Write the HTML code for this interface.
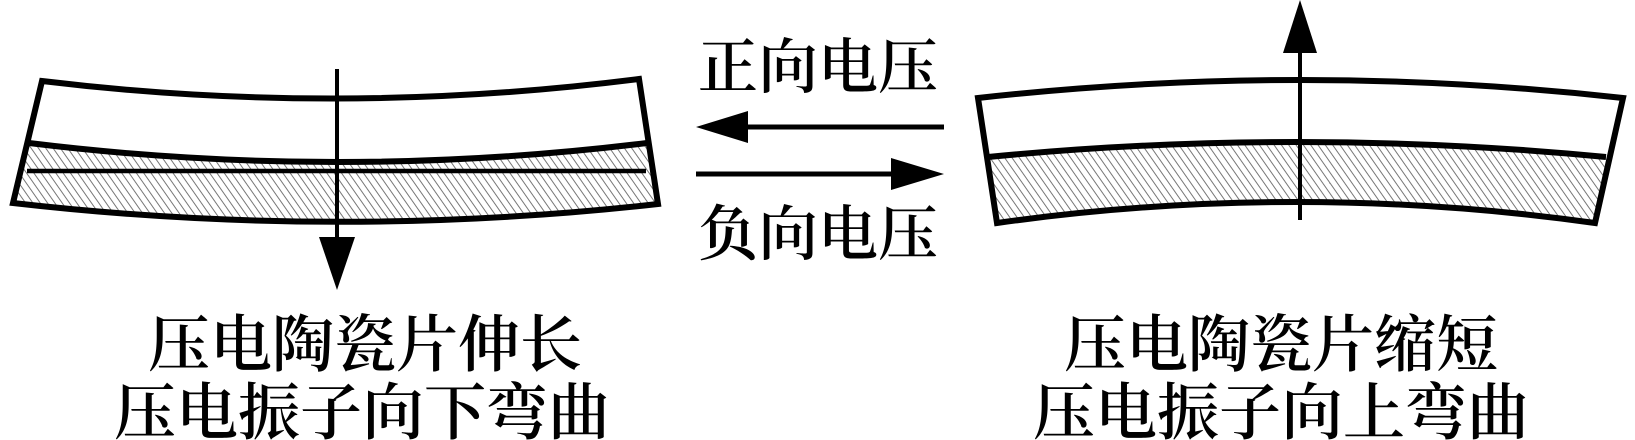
<!DOCTYPE html>
<html><head><meta charset="utf-8"><style>
html,body{margin:0;padding:0;background:#fff;}
svg{display:block}
text{font-family:"Liberation Serif","Noto Serif CJK SC",serif;fill:#000;font-weight:600}
</style></head><body>
<svg width="1635" height="440" viewBox="0 0 1635 440" xmlns="http://www.w3.org/2000/svg">
<defs>
<pattern id="h" width="6" height="6" patternUnits="userSpaceOnUse" patternTransform="rotate(-35)">
<rect width="6" height="6" fill="#fff"/>
<line x1="0" y1="0" x2="0" y2="6" stroke="#777" stroke-width="2"/>
</pattern>
</defs>
<!-- Left bar -->
<path d="M29,143 Q338,181 647,143 L658,204 Q336,240 13,203 Z" fill="url(#h)"/>
<path d="M42,81 Q340,117 639,79 L658,204 Q336,240 13,203 Z" fill="none" stroke="#000" stroke-width="6" stroke-linejoin="miter"/>
<path d="M29,143 Q338,181 647,143" fill="none" stroke="#000" stroke-width="6"/>
<line x1="27" y1="171" x2="646" y2="171" stroke="#000" stroke-width="4.5"/>
<line x1="337" y1="69" x2="337" y2="245" stroke="#000" stroke-width="4"/>
<polygon points="319,237 355,237 337,290" fill="#000"/>
<!-- Right bar -->
<path d="M988,157 Q1297,127 1606,157 L1595,223 Q1296,181 997,223 Z" fill="url(#h)"/>
<path d="M978,98 Q1300,62 1623,98 L1595,223 Q1296,181 997,223 Z" fill="none" stroke="#000" stroke-width="6"/>
<path d="M988,157 Q1297,127 1606,157" fill="none" stroke="#000" stroke-width="6"/>
<line x1="1300" y1="220" x2="1300" y2="45" stroke="#000" stroke-width="4"/>
<polygon points="1283,53 1317,53 1300,0" fill="#000"/>
<!-- Middle arrows -->
<line x1="740" y1="127" x2="944" y2="127" stroke="#000" stroke-width="5"/>
<polygon points="696,127 748,111 748,143" fill="#000"/>
<line x1="696" y1="174" x2="900" y2="174" stroke="#000" stroke-width="5"/>
<polygon points="944,174 891,158 891,190" fill="#000"/>
<text x="818" y="88" font-size="60" text-anchor="middle">正向电压</text>
<text x="818" y="255" font-size="60" text-anchor="middle">负向电压</text>
<!-- Captions -->
<text x="365" y="366" font-size="62" text-anchor="middle">压电陶瓷片伸长</text>
<text x="362" y="434" font-size="62" text-anchor="middle">压电振子向下弯曲</text>
<text x="1281" y="366" font-size="62" text-anchor="middle">压电陶瓷片缩短</text>
<text x="1281" y="434" font-size="62" text-anchor="middle">压电振子向上弯曲</text>
</svg>
</body></html>
